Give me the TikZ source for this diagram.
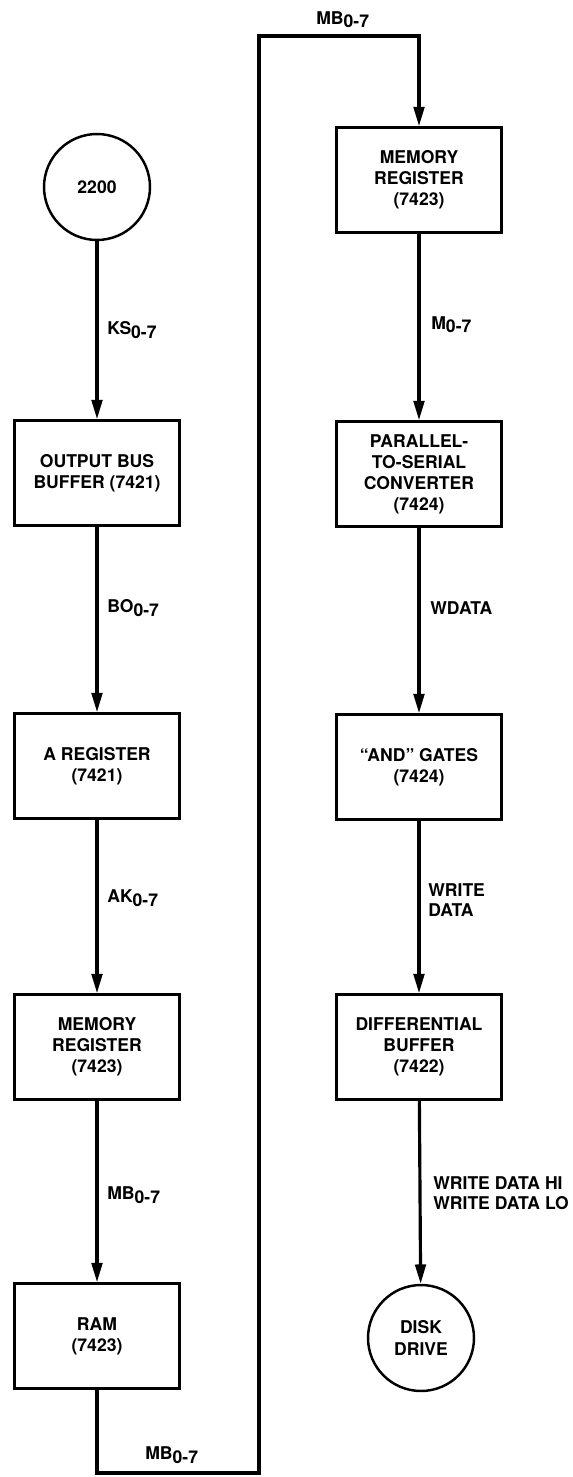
\documentclass[tikz,border=0pt]{standalone}
\usepackage{fontspec}
\setmainfont{TeX Gyre Heros}
\usetikzlibrary{arrows.meta}

\newcommand{\lowsub}[1]{\raisebox{-1.9pt}{#1}}

\tikzset{
	blk/.style={draw, line width=1.4pt, minimum width=3.3cm, minimum height=2.1cm,
		align=center, font=\bfseries\fontsize{10}{12}\selectfont},
	term/.style={draw, circle, line width=1.4pt, minimum size=2.12cm, inner sep=0pt,
		align=center, font=\bfseries\fontsize{10}{12}\selectfont},
	sig/.style={anchor=west, align=left, inner sep=0pt,
		font=\bfseries\fontsize{10}{11.5}\selectfont},
	flow/.style={line width=1.8pt, -{Triangle[length=11pt,width=6pt]}}
}

\begin{document}
\begin{tikzpicture}[x=0.02cm,y=-0.02cm]
		\useasboundingbox (0,0) rectangle (573,1477);
		% left column
		\node[term] (cpu) at (97,187) {2200};
		\node[blk] (obuf) at (97,473) {OUTPUT BUS\\BUFFER (7421)};
		\node[blk] (areg) at (97,766) {A REGISTER\\(7421)};
		\node[blk] (mregA) at (97,1047) {MEMORY\\REGISTER\\(7423)};
		\node[blk] (ram) at (97,1336) {RAM\\(7423)};
		% right column
		\node[blk] (mregB) at (419,180) {MEMORY\\REGISTER\\(7423)};
		\node[blk] (pts) at (419,474) {PARALLEL-\\TO-SERIAL\\CONVERTER\\(7424)};
		\node[blk] (andg) at (419,767) {“AND” GATES\\(7424)};
		\node[blk] (dbuf) at (419,1047) {DIFFERENTIAL\\BUFFER\\(7422)};
		\node[term] (disk) at (421,1338) {DISK\\DRIVE};
		% return path
		\coordinate (loopB) at (259,1473);
		\coordinate (loopT) at (259,36);

		\draw[flow] (cpu) -- (obuf);
		\draw[flow] (obuf) -- (areg);
		\draw[flow] (areg) -- (mregA);
		\draw[flow] (mregA) -- (ram);
		\draw[flow] (ram.south) |- (loopB) -- (loopT) -| (mregB.north);
		\draw[flow] (mregB) -- (pts);
		\draw[flow] (pts) -- (andg);
		\draw[flow] (andg) -- (dbuf);
		\draw[flow] (dbuf) -- (disk);

		\node[sig] (ks) at (107,330) {KS\lowsub{0-7}};
		\node[sig] (bo) at (107,608) {BO\lowsub{0-7}};
		\node[sig] (ak) at (107,898) {AK\lowsub{0-7}};
		\node[sig] (mbA) at (107,1195) {MB\lowsub{0-7}};
		\node[sig] (mbB) at (145,1455) {MB\lowsub{0-7}};
		\node[sig] (mbC) at (316,20) {MB\lowsub{0-7}};
		\node[sig] (mm) at (431,325) {M\lowsub{0-7}};
		\node[sig] (wd) at (430,608) {WDATA};
		\node[sig] (wrd) at (428,900) {WRITE\\DATA};
		\node[sig] (wdhl) at (433,1193) {WRITE DATA HI\\WRITE DATA LO};
	\end{tikzpicture}
\end{document}
